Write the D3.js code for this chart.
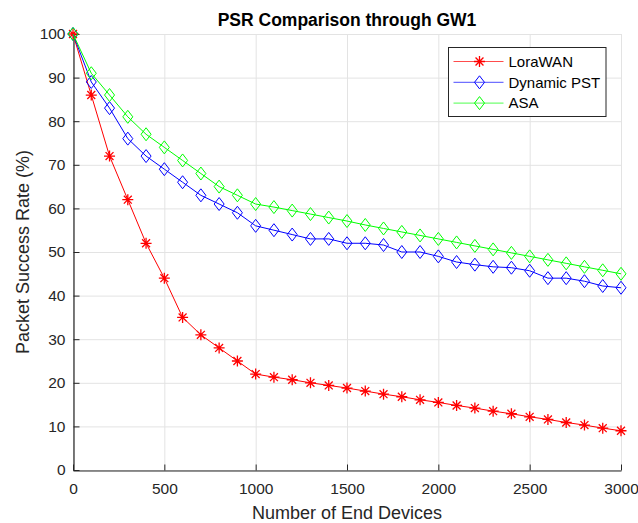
<!DOCTYPE html>
<html>
<head>
<meta charset="utf-8">
<script src="https://cdn.jsdelivr.net/npm/d3@7"></script>
<style>
  html, body { margin: 0; padding: 0; background: #fff; }
  svg { display: block; font-family: "Liberation Sans", Arial, sans-serif; }
</style>
</head>
<body>
<svg id="chart" width="638" height="523"></svg>
<script>
// Number of end devices (x values)
const devices = [0,100,200,300,400,500,600,700,800,900,1000,1100,1200,1300,1400,1500,
                 1600,1700,1800,1900,2000,2100,2200,2300,2400,2500,2600,2700,2800,2900,3000];

// Packet success rate (%) per scheme
const loraWAN = [100,86,72,62,52,44,35,31,28,25,22,21.3,20.7,20,19.4,18.8,
                 18.1,17.4,16.8,16.1,15.5,14.8,14.2,13.5,12.9,12.2,11.6,10.9,10.3,9.6,9];
const dynamicPST = [100,89,83,76,72,69,66,63,61,59,56,55,54,53,53,52,
                    52,51.6,50,50,49,47.7,47.1,46.6,46.4,45.7,44,44,43.3,42.2,41.8];
const asa = [100,91,86,81,77,74,71,68,65,63,61,60.3,59.5,58.7,57.9,57.1,
             56.2,55.4,54.6,53.8,53,52.2,51.4,50.6,49.8,49,48.2,47.4,46.6,45.8,45];

const seriesNames = ["LoraWAN", "Dynamic PST", "ASA"];
const xTicks = [0,500,1000,1500,2000,2500,3000];
const yTicks = [0,10,20,30,40,50,60,70,80,90,100];

const series = [
  { name: seriesNames[0], values: loraWAN,    color: "#ff0000", marker: "asterisk" },
  { name: seriesNames[1], values: dynamicPST, color: "#0000ff", marker: "diamond" },
  { name: seriesNames[2], values: asa,        color: "#00ff00", marker: "diamond" }
];

const svg = d3.select("#chart");
const margin = { left: 73, right: 17, top: 34, bottom: 53 };
const W = 638, H = 523;
const iw = W - margin.left - margin.right;
const ih = H - margin.top - margin.bottom;

const x = d3.scaleLinear().domain([0, 3000]).range([margin.left, margin.left + iw]);
const y = d3.scaleLinear().domain([0, 100]).range([margin.top + ih, margin.top]);

const axisColor = "#262626";
const gridColor = "#e3e3e3";
const font = "'Liberation Sans', Arial, sans-serif";

// Grid
const grid = svg.append("g");
grid.selectAll("line.gx").data(xTicks).join("line")
  .attr("x1", d => x(d) + 0.5).attr("x2", d => x(d) + 0.5)
  .attr("y1", y(0)).attr("y2", y(100))
  .attr("stroke", gridColor).attr("stroke-width", 1);
grid.selectAll("line.gy").data(yTicks).join("line")
  .attr("y1", d => y(d) + 0.5).attr("y2", d => y(d) + 0.5)
  .attr("x1", x(0)).attr("x2", x(3000))
  .attr("stroke", gridColor).attr("stroke-width", 1);

// Axes with inward ticks
const xAxis = d3.axisBottom(x).tickValues(xTicks).tickFormat(d3.format("d"))
  .tickSizeInner(-6).tickSizeOuter(0).tickPadding(12);
const yAxis = d3.axisLeft(y).tickValues(yTicks).tickFormat(d3.format("d"))
  .tickSizeInner(-6).tickSizeOuter(0).tickPadding(8);

const gx = svg.append("g").attr("transform", `translate(0,${y(0) + 0.5})`).call(xAxis);
const gy = svg.append("g").attr("transform", `translate(${x(0) + 0.5},0)`).call(yAxis);
[gx, gy].forEach(g => {
  g.select(".domain").attr("stroke", axisColor).attr("stroke-width", 1.2);
  g.selectAll(".tick line").attr("stroke", axisColor);
  g.selectAll(".tick text").attr("fill", axisColor)
    .style("font-size", "15.5px").style("font-family", font);
});

// Marker drawing helpers
function drawMarker(g, type, color) {
  if (type === "diamond") {
    g.append("path").attr("d", "M0,-6.5L5,0L0,6.5L-5,0Z")
      .attr("fill", "none").attr("stroke", color).attr("stroke-width", 1);
  } else {
    const r = 5.5, rd = r * 0.72;
    g.append("path")
      .attr("d", `M0,${-r}L0,${r}M${-rd},${-rd}L${rd},${rd}M${-rd},${rd}L${rd},${-rd}M${-r},0L${r},0`)
      .attr("stroke", color).attr("stroke-width", 1.3).attr("fill", "none");
  }
}

// Series lines and markers
const line = d3.line().x((d, i) => x(devices[i])).y(d => y(d));
series.forEach(s => {
  const g = svg.append("g");
  g.append("path").datum(s.values).attr("d", line)
    .attr("fill", "none").attr("stroke", s.color).attr("stroke-width", 1);
  s.values.forEach((v, i) => {
    const m = g.append("g").attr("transform", `translate(${x(devices[i])},${y(v)})`);
    drawMarker(m, s.marker, s.color);
  });
});

// Title
svg.append("text").attr("x", 347).attr("y", 26).attr("text-anchor", "middle")
  .style("font-size", "17.5px").style("font-weight", "bold").attr("fill", "#000")
  .text("PSR Comparison through GW1");

// Axis labels
svg.append("text").attr("x", x(1500)).attr("y", 519).attr("text-anchor", "middle")
  .style("font-size", "18px").attr("fill", axisColor).text("Number of End Devices");
svg.append("text").attr("transform", `translate(29,${y(50)}) rotate(-90)`)
  .attr("text-anchor", "middle").style("font-size", "18px").attr("fill", axisColor)
  .text("Packet Success Rate (%)");

// Legend
const lg = svg.append("g").attr("transform", "translate(448.5,47.5)");
lg.append("rect").attr("width", 157.5).attr("height", 69)
  .attr("fill", "#fff").attr("stroke", axisColor).attr("stroke-width", 1);
series.forEach((s, i) => {
  const row = lg.append("g").attr("transform", `translate(0,${14 + i * 20.8})`);
  row.append("line").attr("x1", 5).attr("x2", 55).attr("y1", 0).attr("y2", 0)
    .attr("stroke", s.color).attr("stroke-width", 1).attr("stroke-opacity", 0.7);
  drawMarker(row.append("g").attr("transform", "translate(31,0)"), s.marker, s.color);
  row.append("text").attr("x", 60).attr("y", 0).attr("dy", "0.35em")
    .style("font-size", "15px").attr("fill", "#000").text(s.name);
});
</script>
</body>
</html>
